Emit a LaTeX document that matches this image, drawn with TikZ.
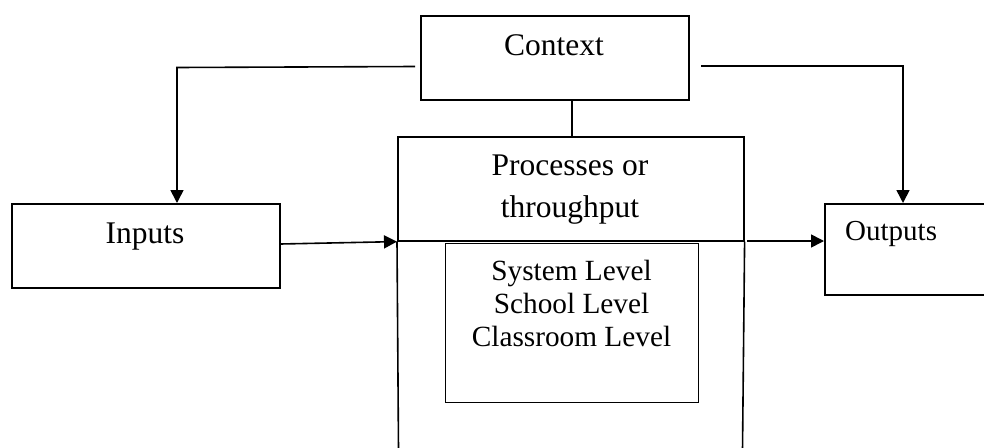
\documentclass[tikz,border=0pt]{standalone}
\usepackage{fontspec}
\setmainfont{Liberation Serif}
\usetikzlibrary{arrows.meta}
\begin{document}
\begin{tikzpicture}[x=1pt,y=-1pt,
  boxshape/.style={draw,line width=1.6pt,rectangle,inner sep=0pt,anchor=north west},
  thinbox/.style={draw,line width=1pt,rectangle,inner sep=0pt,anchor=north west},
  txt/.style={inner sep=0pt,anchor=base,font=\fontsize{31.5}{38}\selectfont},
  smalltxt/.style={inner sep=0pt,anchor=base,font=\fontsize{29.3}{33}\selectfont},
  conn/.style={line width=1.6pt},
  arr/.style={line width=1.6pt,-{Triangle[length=13pt,width=13pt]}}]
\clip (0,0) rectangle (984,447);
\useasboundingbox (0,0) rectangle (984,447);
% boxes
\node[boxshape,minimum width=268pt,minimum height=84pt] (context) at (420,15) {};
\node[boxshape,minimum width=268pt,minimum height=84pt] (inputs) at (11,203) {};
\node[boxshape,minimum width=346pt,minimum height=104pt] (proc) at (397,136) {};
\node[thinbox,minimum width=253pt,minimum height=159pt] (inner) at (445,243) {};
\node[boxshape,minimum width=200pt,minimum height=91pt] (outputs) at (824,203) {};
% texts
\node[txt] (tcontext) at (554,55) {Context};
\node[txt] (tinputs) at (145,243) {Inputs};
\node[txt] (tproc1) at (570,175) {Processes or};
\node[txt] (tproc2) at (570,217) {throughput};
\node[smalltxt] (tl1) at (571.5,280) {System Level};
\node[smalltxt] (tl2) at (571.5,313) {School Level};
\node[smalltxt] (tl3) at (571.5,346) {Classroom Level};
\node[inner sep=0pt,anchor=base west,font=\fontsize{29}{33}\selectfont] (toutputs) at (845,240) {Outputs};
% outer process frame (open at the bottom)
\coordinate (obl) at (398.5,450);
\coordinate (obr) at (742.5,450);
\draw[conn] (proc.south west) -- (obl);
\draw[conn] (proc.south east) -- (obr);
% connectors
\coordinate (cx) at (572,0);
\coordinate (lstart) at (415,66.5);
\coordinate (lcorner) at (177,67.5);
\coordinate (rstart) at (701,66);
\coordinate (rcorner) at (903,66);
\coordinate (ostart) at (747,241);
\draw[conn] (context.south -| cx) -- (proc.north -| cx);
\draw[arr] (lstart) -- (lcorner) -- (lcorner |- inputs.north);
\draw[arr] (rstart) -- (rcorner) -- (rcorner |- outputs.north);
\draw[arr] (inputs.east |- 0,244) -- (proc.south west);
\draw[arr] (ostart) -- (outputs.west |- ostart);
\end{tikzpicture}
\end{document}
